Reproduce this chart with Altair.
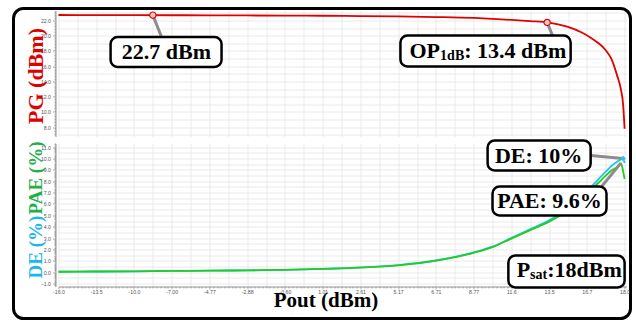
import json
import numpy as np
import pandas as pd
import altair as alt

# Pout (dBm) reached at each whole drive step of the sweep -> x tick labels
x_tick_labels = ["-16.0", "-13.5", "-10.0", "-7.00", "-4.77", "-2.88", "-0.60", "1.01",
                 "2.61", "5.17", "6.71", "8.77", "11.6", "13.5", "16.7", "18.0"]
pout_at_step = [float(s) for s in x_tick_labels]

# sweep position of every sample
step = [0, 1, 2, 3, 4, 5, 6, 7, 8, 9, 10, 11, 11.5, 12, 12.5, 13, 13.5, 13.85,
        14.1, 14.3, 14.5, 14.65, 14.8, 14.9, 14.96, 15.0]
# power gain (dB)
pg = [22.72, 22.71, 22.70, 22.69, 22.68, 22.66, 22.64, 22.62, 22.58, 22.53, 22.45, 22.33,
      22.22, 22.08, 21.92, 21.72, 21.15, 20.45, 19.75, 19.05, 18.10, 16.95, 14.80, 13.00,
      11.00, 7.80]
# drain efficiency (%)
de = [0.03, 0.05, 0.07, 0.10, 0.12, 0.15, 0.20, 0.28, 0.41, 0.61, 1.02, 1.73,
      2.24, 3.01, 3.78, 4.56, 5.55, 6.50, 7.45, 8.15, 8.85, 9.35, 9.72, 9.93, 10.0, 9.60]
# power added efficiency (%)
pae = [0.03, 0.05, 0.07, 0.10, 0.12, 0.15, 0.20, 0.28, 0.40, 0.60, 1.00, 1.70,
       2.20, 2.95, 3.70, 4.45, 5.40, 6.30, 7.20, 7.85, 8.50, 8.95, 9.25, 9.60, 8.90, 8.20]

# highlighted operating points
gain_ref, gain_ref_step = 22.7, 2.5
op1db_pout = 13.4

RED, GREEN, CYAN = "#e00000", "#22cc22", "#22c4ee"
SERIF = "Liberation Serif"
W, H_TOP, H_BOT = 568, 126, 143
XS = alt.Scale(domain=[0, 15.05], nice=False, zero=False)
YS_TOP = alt.Scale(domain=[6.78, 23.31], nice=False, zero=False)
YS_BOT = alt.Scale(domain=[-1.27, 11.33], nice=False, zero=False)

curves = pd.DataFrame({"step": step, "pg": pg, "de": de, "pae": pae})

op_step = float(np.interp(op1db_pout, pout_at_step, range(len(pout_at_step))))
op_pg = float(np.interp(op_step, step, pg))
i_de, i_pae = int(np.argmax(de)), int(np.argmax(pae))
de_peak, pae_peak = de[i_de], pae[i_pae]
psat = pout_at_step[-1]

# ---------- axes ----------
is_int = "abs(datum.value - round(datum.value)) < 0.001"
is_half = "abs(datum.value * 2 - round(datum.value * 2)) < 0.001"
is_even = "abs(datum.value / 2 - round(datum.value / 2)) < 0.001"
x_vals = [round(i * 0.1, 1) for i in range(151)]
grid_kw = dict(grid=True, gridColor="#e4e4e4", gridWidth=0.8)
lab_kw = dict(labelFontSize=5.2, labelColor="#555", labelFont="Liberation Sans",
              labelOverlap=False, labelFlush=False, tickColor="#777", tickWidth=0.6,
              domainColor="#777", domainWidth=0.8)

x_axis_top = alt.Axis(values=x_vals, labels=False, ticks=False, domain=False, title=None,
                      gridOpacity={"condition": {"test": is_half, "value": 1}, "value": 0},
                      **grid_kw)
x_axis_bot = alt.Axis(values=x_vals,
                      labelExpr=f"{is_int} ? {json.dumps(x_tick_labels)}[round(datum.value)] : ''",
                      labelPadding=0,
                      tickSize={"condition": {"test": is_int, "value": 2.5}, "value": 1.5},
                      gridOpacity={"condition": {"test": is_half, "value": 1}, "value": 0},
                      title="Pout (dBm)", titleFont=SERIF, titleFontSize=21,
                      titleFontWeight="bold", titleColor="black", titleX=267, titleY=19.5,
                      titleAlign="center", titleBaseline="alphabetic",
                      **grid_kw, **lab_kw)
y_axis_top = alt.Axis(values=[round(7.0 + 0.2 * i, 1) for i in range(82)],
                      labelExpr=f"{is_even} ? format(datum.value + 0, '.1f') : ''",
                      offset=3, labelPadding=2, title=None,
                      tickSize={"condition": {"test": is_even, "value": 3}, "value": 1.5},
                      gridOpacity={"condition": {"test": is_int, "value": 1}, "value": 0},
                      **grid_kw, **lab_kw)
y_axis_bot = alt.Axis(values=[round(-1.2 + 0.1 * i, 1) for i in range(126)],
                      labelExpr=f"{is_int} ? format(datum.value + 0, '.1f') : ''",
                      offset=3, labelPadding=2, title=None,
                      tickSize={"condition": {"test": is_int, "value": 3}, "value": 1.5},
                      gridOpacity={"condition": {"test": is_half, "value": 1}, "value": 0},
                      **grid_kw, **lab_kw)


class Panel:
    """Shared x/y encodings of one panel, so every layer carries the same axis."""

    def __init__(self, xaxis, yscale, yaxis):
        self.xaxis, self.yscale, self.yaxis = xaxis, yscale, yaxis

    def X(self, field):
        return alt.X(f"{field}:Q", scale=XS, axis=self.xaxis)

    def Y(self, field):
        return alt.Y(f"{field}:Q", scale=self.yscale, axis=self.yaxis)

    def box(self, df):
        return alt.Chart(df).mark_rect(fill="white", stroke="black", strokeWidth=2.5,
                                       cornerRadius=7).encode(
            x=self.X("x0"), x2="x1", y=self.Y("y0"), y2="y1")

    def pointer(self, df):
        return alt.Chart(df).mark_rule(color="#8c8c8c", strokeWidth=3).encode(
            x=self.X("xa"), x2="xb", y=self.Y("ya"), y2="yb")

    def text(self, df, size=22, align="center", dx=0, dy=0):
        return alt.Chart(df).mark_text(font=SERIF, fontWeight="bold", fontSize=size,
                                       color="black", align=align, baseline="middle",
                                       dx=dx, dy=dy).encode(
            x=self.X("tx"), y=self.Y("ty"), text="t:N")


one = pd.DataFrame({"k": [0]})

# ---------- gain panel ----------
P1 = Panel(x_axis_top, YS_TOP, y_axis_top)

frame = alt.Chart(one).mark_rect(fill="transparent", stroke="black", strokeWidth=3,
                                 cornerRadius=10).encode(
    x=alt.value(-45), x2=alt.value(572), y=alt.value(-2), y2=alt.value(308))

pg_line = alt.Chart(curves).mark_line(color=RED, strokeWidth=1.8, interpolate="monotone").encode(
    x=P1.X("step"), y=P1.Y("pg"))

top_boxes = pd.DataFrame({"x0": [1.38, 9.06], "x1": [4.32, 13.57],
                          "y0": [15.90, 15.96], "y1": [19.83, 20.03]})
top_ptrs = pd.DataFrame({"xa": [gain_ref_step, op_step], "xb": [2.73, 13.09],
                         "ya": [gain_ref, op_pg], "yb": [19.83, 20.03]})
top_marks = pd.DataFrame({"step": [gain_ref_step, op_step], "pg": [gain_ref, op_pg]})
pg_marks = alt.Chart(top_marks).mark_circle(size=40, color="#f7cccc", stroke=RED,
                                            strokeWidth=1.2, opacity=1).encode(
    x=P1.X("step"), y=P1.Y("pg"))

t_gain = pd.DataFrame({"tx": [2.86], "ty": [17.87], "t": [f"{gain_ref} dBm"]})
t_op_a = pd.DataFrame({"tx": [9.30], "ty": [18.0], "t": ["OP"]})
t_op_b = pd.DataFrame({"tx": [9.30], "ty": [18.0], "t": ["1dB"]})
t_op_c = pd.DataFrame({"tx": [9.30], "ty": [18.0], "t": [f": {op1db_pout} dBm"]})

pg_title = alt.Chart(one).mark_text(text="PG (dBm)", font=SERIF, fontWeight="bold",
                                    fontSize=22, color=RED, angle=270, align="center",
                                    baseline="middle").encode(
    x=alt.value(-23), y=alt.value(65.5))

top = alt.layer(
    pg_line, frame, P1.pointer(top_ptrs), P1.box(top_boxes), pg_marks,
    P1.text(t_gain),
    P1.text(t_op_a, align="left"),
    P1.text(t_op_b, size=14, align="left", dx=30.6, dy=5),
    P1.text(t_op_c, align="left", dx=54.7),
    pg_title,
).properties(width=W, height=H_TOP)

# ---------- efficiency panel ----------
P2 = Panel(x_axis_bot, YS_BOT, y_axis_bot)

de_line = alt.Chart(curves).mark_line(color=CYAN, strokeWidth=1.8, interpolate="monotone").encode(
    x=P2.X("step"), y=P2.Y("de"))
pae_line = alt.Chart(curves).mark_line(color=GREEN, strokeWidth=1.8, interpolate="monotone").encode(
    x=P2.X("step"), y=P2.Y("pae"))

bot_boxes = pd.DataFrame({"x0": [11.37, 11.50, 11.92], "x1": [14.10, 14.52, 15.0],
                          "y0": [8.95, 4.99, -1.36], "y1": [11.59, 7.54, 1.46]})
bot_ptrs = pd.DataFrame({"xa": [step[i_de], step[i_pae]], "xb": [14.10, 14.39],
                         "ya": [de_peak, pae_peak], "yb": [10.27, 7.54]})
de_mark = alt.Chart(pd.DataFrame({"step": [step[i_de]], "de": [de_peak]})).mark_point(
    shape="diamond", size=30, filled=True, color=CYAN, opacity=1).encode(
    x=P2.X("step"), y=P2.Y("de"))

t_de = pd.DataFrame({"tx": [12.72], "ty": [10.23], "t": [f"DE: {de_peak:g}%"]})
t_pae = pd.DataFrame({"tx": [13.01], "ty": [6.26], "t": [f"PAE: {pae_peak:g}%"]})
t_ps_a = pd.DataFrame({"tx": [12.14], "ty": [0.14], "t": ["P"]})
t_ps_b = pd.DataFrame({"tx": [12.14], "ty": [0.14], "t": ["sat"]})
t_ps_c = pd.DataFrame({"tx": [12.14], "ty": [0.14], "t": [f":{psat:g}dBm"]})

de_title = alt.Chart(one).mark_text(text="DE (%)", font=SERIF, fontWeight="bold",
                                    fontSize=19, color="#18b8ec", angle=270, align="left",
                                    baseline="middle").encode(
    x=alt.value(-23), y=alt.value(135))
pae_title = alt.Chart(one).mark_text(text="PAE (%)", font=SERIF, fontWeight="bold",
                                     fontSize=19, color="#1fb04a", angle=270, align="right",
                                     baseline="middle").encode(
    x=alt.value(-23), y=alt.value(-2))

bottom = alt.layer(
    de_line, pae_line, P2.pointer(bot_ptrs), P2.box(bot_boxes), de_mark,
    P2.text(t_de), P2.text(t_pae),
    P2.text(t_ps_a, align="left"),
    P2.text(t_ps_b, size=14, align="left", dx=13.4, dy=5),
    P2.text(t_ps_c, align="left", dx=30.5),
    de_title, pae_title,
).properties(width=W, height=H_BOT)

chart = alt.vconcat(top, bottom, spacing=7, bounds="flush").properties(
    padding={"left": 11.5, "top": 6.5, "right": 0, "bottom": 0},
    background="white",
).configure_view(strokeOpacity=0)

chart.save("out.html", embed_options={"renderer": "svg", "actions": False})
